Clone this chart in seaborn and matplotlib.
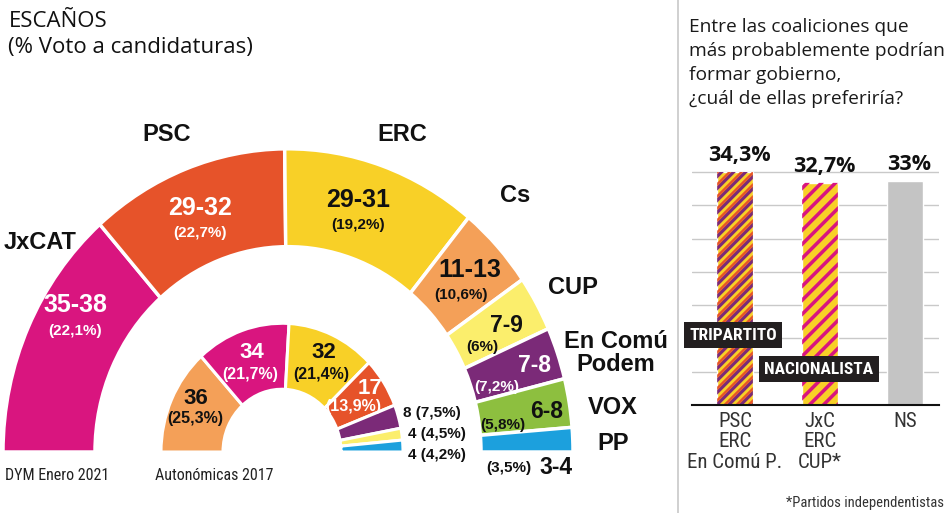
import numpy as np
import pandas as pd
import matplotlib
matplotlib.use("Agg")
import matplotlib.pyplot as plt
from matplotlib import font_manager
from matplotlib.patches import PathPatch
from matplotlib.path import Path
from matplotlib.transforms import IdentityTransform
import seaborn as sns

# ---------------- data ----------------
parties_2021 = ["JxCAT", "PSC", "ERC", "Cs", "CUP", "En Comú\nPodem", "VOX", "PP"]
seats_lo_2021 = [35, 29, 29, 11, 7, 7, 6, 3]
seats_hi_2021 = [38, 32, 31, 13, 9, 8, 8, 4]
vote_2021 = [22.1, 22.7, 19.2, 10.6, 6.0, 7.2, 5.8, 3.5]

parties_2017 = ["Cs", "JxCAT", "ERC", "PSC", "En Comú Podem", "CUP", "PP"]
seats_2017 = [36, 34, 32, 17, 8, 4, 4]
vote_2017 = [25.3, 21.7, 21.4, 13.9, 7.5, 4.5, 4.2]

coalitions = ["PSC\nERC\nEn Comú P.", "JxC\nERC\nCUP*", "NS"]
coalition_pct = [34.3, 32.7, 33.0]
coalition_tags = ["TRIPARTITO", "NACIONALISTA", None]

# ---------------- style ----------------
C = {
    "JxCAT": "#d9157f", "PSC": "#e6532a", "ERC": "#f8d027", "Cs": "#f4a058",
    "CUP": "#fbee6c", "ECP": "#7b2a78", "VOX": "#8dbf3f", "PP": "#1ca0dd",
    "NS": "#c4c4c4",
}
colors_2021 = [C["JxCAT"], C["PSC"], C["ERC"], C["Cs"], C["CUP"], C["ECP"], C["VOX"], C["PP"]]
colors_2017 = [C["Cs"], C["JxCAT"], C["ERC"], C["PSC"], C["ECP"], C["CUP"], C["PP"]]
white_text_2021 = [True, True, False, False, False, True, False, False]
white_text_2017 = [False, True, False, True, False, False, False]


def pick(*names):
    for n in names:
        try:
            font_manager.findfont(font_manager.FontProperties(family=n), fallback_to_default=False)
            return n
        except Exception:
            pass
    return "DejaVu Sans"


BOLD = pick("Liberation Sans", "Arial", "DejaVu Sans")
NARROW = pick("Liberation Sans Narrow", "Roboto Condensed", "DejaVu Sans Condensed", "Liberation Sans")
HUMAN = pick("Open Sans", "Noto Sans", "Lato", "DejaVu Sans")

sns.set_theme(style="white")
plt.rcParams["font.family"] = [HUMAN, "DejaVu Sans"]

W, H = 948, 513
K = 0.94  # vertical stretch of the half-donut in the reference


def P(x, y):
    return x, (H - y) * K


fig = plt.figure(figsize=(W / 100, H / 100), dpi=100)
fig.patch.set_facecolor("white")

ax0 = fig.add_axes([0, 0, 1, 1])


def fmt_pct(v):
    return "(" + f"{v:g}".replace(".", ",") + "%)"


# ---- outer ring (DYM Enero 2021) ----
mid_2021 = [(a + b) / 2 for a, b in zip(seats_lo_2021, seats_hi_2021)]
sizes = mid_2021 + [sum(mid_2021)]
wedges, _ = ax0.pie(sizes, colors=colors_2021 + ["white"], startangle=180, counterclock=False,
                    radius=285, center=P(288, 452),
                    wedgeprops=dict(width=92, edgecolor="white", linewidth=2.5))
wedges[-1].set_visible(False)

# ---- inner ring (Autonómicas 2017) ----
sizes17 = seats_2017 + [sum(seats_2017)]
wedges17, _ = ax0.pie(sizes17, colors=colors_2017 + ["white"], startangle=180, counterclock=False,
                      radius=121, center=P(282, 452),
                      wedgeprops=dict(width=62, edgecolor="white", linewidth=2.2))
wedges17[-1].set_visible(False)

ax0.set_xlim(0, W)
ax0.set_ylim(0, H * K)
ax0.set_aspect("auto")
ax0.axis("off")

# ---- text layout (image pixel positions) ----
name_pos = [(40, 243), (167, 135), (402, 135), (515, 195), (573, 288), (616, 353), (613, 408), (613, 443)]
seat_pos = [(75, 305), (200, 208), (358, 200), (470, 270), (506, 325), (535, 365), (547, 412), (556, 467)]
pct_pos = [(75, 331), (200, 233), (358, 225), (461, 295), (482, 347), (497, 387), (503, 425), (509, 468)]

for i, name in enumerate(parties_2021):
    ax0.text(*P(*name_pos[i]), name, ha="center", va="center", fontsize=17, fontweight="bold",
             family=BOLD, color="#111111", linespacing=0.95)
    col = "white" if white_text_2021[i] else "#111111"
    big = 18 if i < 4 else 16.5
    ax0.text(*P(*seat_pos[i]), f"{seats_lo_2021[i]}-{seats_hi_2021[i]}", ha="center", va="center",
             fontsize=big, fontweight="bold", family=BOLD, color=col)
    ax0.text(*P(*pct_pos[i]), fmt_pct(vote_2021[i]), ha="center", va="center",
             fontsize=11, fontweight="bold", family=BOLD, color=col if i != 7 else "#111111")

seat17_pos = [(196, 399), (252, 352), (324, 352), (370, 388)]
pct17_pos = [(195, 418), (250, 375), (321, 374), (353, 407)]
small17_pos = [(403, 413), (408, 434), (408, 455)]
for i in range(len(parties_2017)):
    col = "white" if white_text_2017[i] else "#111111"
    if i < 4:
        ax0.text(*P(*seat17_pos[i]), f"{seats_2017[i]}", ha="center", va="center", fontsize=16,
                 fontweight="bold", family=BOLD, color=col)
        ax0.text(*P(*pct17_pos[i]), fmt_pct(vote_2017[i]), ha="center", va="center", fontsize=11.5,
                 fontweight="bold", family=BOLD, color=col)
    else:
        ax0.text(*P(*small17_pos[i - 4]), f"{seats_2017[i]} {fmt_pct(vote_2017[i])}", ha="left",
                 va="center", fontsize=11, fontweight="bold", family=BOLD, color="#111111")

ax0.text(*P(9, 22), "ESCAÑOS", ha="left", va="center", fontsize=16, color="#111111")
ax0.text(*P(8, 48), "(% Voto a candidaturas)", ha="left", va="center", fontsize=16, color="#111111")
ax0.text(*P(5, 476), "DYM Enero 2021", ha="left", va="center", fontsize=11.5, family=NARROW, color="#222222")
ax0.text(*P(155, 476), "Autonómicas 2017", ha="left", va="center", fontsize=11.5, family=NARROW, color="#222222")

# separator
ax0.plot([678, 678], [0, H * K], color="#c8c8c8", lw=1.2)

ax0.text(*P(689, 18), "Entre las coaliciones que\nmás probablemente podrían\nformar gobierno,\n¿cuál de ellas preferiría?",
         ha="left", va="top", fontsize=13.8, color="#1a1a1a", linespacing=1.42)
ax0.text(*P(944, 503), "*Partidos independentistas", ha="right", va="center", fontsize=10.5,
         family=NARROW, color="#333333")

# ---- bar chart ----
bx0, bx1, by0, by1 = 692, 939, 405, 170
bax = fig.add_axes([bx0 / W, (H - by0) / H, (bx1 - bx0) / W, (by0 - by1) / H])
df = pd.DataFrame({"coalition": coalitions, "pct": coalition_pct})
sns.barplot(data=df, x="coalition", y="pct", hue="coalition", palette=[C["ERC"], C["ERC"], C["NS"]],
            legend=False, width=0.42, saturation=1, ax=bax)
bax.set_xlim(-0.506, 2.4)
ymax = 34.3 * (by0 - by1) / 233
bax.set_ylim(0, ymax)
bax.set_yticks(np.linspace(0, 34.3, 8))
bax.grid(axis="y", color="#c9c9c9", lw=1)
bax.grid(axis="x", visible=False)
bax.set_axisbelow(True)
for s in ["left", "right", "top"]:
    bax.spines[s].set_visible(False)
bax.spines["bottom"].set_color("#111111")
bax.spines["bottom"].set_linewidth(1.5)
bax.tick_params(axis="y", length=0, labelleft=False)
bax.tick_params(axis="x", length=0, pad=5, labelsize=15, labelcolor="#333333")
for t in bax.get_xticklabels():
    t.set_family(NARROW)
    t.set_linespacing(1.1)
bax.set_xlabel("")
bax.set_ylabel("")
bax.patch.set_alpha(0)

for i, v in enumerate(coalition_pct):
    bax.annotate(f"{v:g}".replace(".", ",") + "%", (i, v), xytext=(3, 12), textcoords="offset points",
                 ha="center", va="center", fontsize=15.5, fontweight="bold", color="#111111")

# diagonal stripes, clipped analytically to each bar's rectangle (display pixels)
fig.canvas.draw()
stripe_specs = [
    (12, [(C["ECP"], 0, 4.5), (C["PSC"], 4.5, 3.5)]),
    (14, [(C["JxCAT"], 0, 5.0)]),
]
bars = [p for p in bax.patches if p.get_height() > 0]
bars.sort(key=lambda p: p.get_x())
for patch, (period, bands) in zip(bars[:2], stripe_specs):
    bb = patch.get_window_extent()
    x0, x1 = bb.x0 - 2, bb.x1 + 2
    for c in np.arange(bb.y0 - x1 - period, bb.y1 - x0 + period, period):
        for col, off, w in bands:
            verts = [(x0, x0 + c + off), (x1, x1 + c + off), (x1, x1 + c + off + w),
                     (x0, x0 + c + off + w), (x0, x0 + c + off)]
            path = Path(verts, closed=True).clip_to_bbox(bb, inside=True)
            if len(path.vertices) < 3:
                continue
            pp = PathPatch(path, facecolor=col, edgecolor="none", transform=IdentityTransform())
            pp.set_clip_on(False)
            bax.add_artist(pp)

tag_pos = [(733, 335), (819, 369)]
for tag, (tx, ty) in zip(coalition_tags, tag_pos):
    if tag:
        fig.text(tx / W, 1 - ty / H, tag, ha="center", va="center", color="white", fontsize=12.5,
                 fontweight="bold", family=NARROW,
                 bbox=dict(boxstyle="square,pad=0.3", fc="#231f20", ec="none"))

fig.savefig("out.png", dpi=100)
